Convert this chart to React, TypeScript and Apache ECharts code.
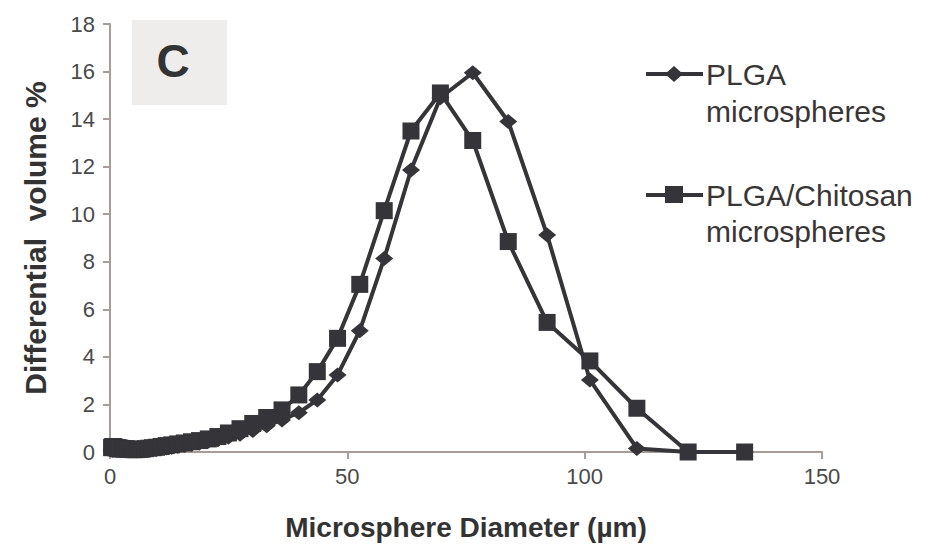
import React, { useEffect, useRef } from "react";
import * as echarts from "echarts";

// Particle-size bins (µm) of the laser diffraction analyser
const diameters = [
  0.375, 0.412, 0.452, 0.496, 0.545, 0.598, 0.657, 0.721, 0.791, 0.869, 0.954, 1.047, 1.149,
  1.262, 1.385, 1.52, 1.669, 1.832, 2.011, 2.208, 2.424, 2.661, 2.921, 3.206, 3.519, 3.863,
  4.241, 4.656, 5.111, 5.611, 6.159, 6.761, 7.422, 8.148, 8.944, 9.819, 10.78, 11.83, 12.99,
  14.26, 15.65, 17.18, 18.86, 20.71, 22.73, 24.95, 27.39, 30.07, 33.01, 36.24, 39.78, 43.67,
  47.94, 52.62, 57.77, 63.41, 69.61, 76.42, 83.9, 92.09, 101.1, 111.0, 121.8, 133.7,
];

// Differential volume % — PLGA microspheres
const plgaValues = [
  0.08, 0.08, 0.08, 0.08, 0.08, 0.08, 0.08, 0.08, 0.08, 0.08, 0.08, 0.08, 0.08,
  0.07, 0.07, 0.07, 0.07, 0.07, 0.07, 0.06, 0.06, 0.06, 0.06, 0.06, 0.05, 0.05,
  0.05, 0.05, 0.05, 0.05, 0.06, 0.07, 0.08, 0.09, 0.1, 0.12, 0.14, 0.17, 0.2,
  0.24, 0.28, 0.33, 0.38, 0.45, 0.52, 0.62, 0.75, 0.9, 1.1, 1.35, 1.65, 2.19,
  3.24, 5.1, 8.14, 11.86, 14.9, 15.95, 13.9, 9.13, 3.03, 0.15, 0, 0,
];

// Differential volume % — PLGA/Chitosan microspheres
const chitosanValues = [
  0.18, 0.19, 0.2, 0.2, 0.21, 0.21, 0.21, 0.21, 0.2, 0.2, 0.2, 0.19, 0.19,
  0.18, 0.18, 0.17, 0.17, 0.16, 0.16, 0.15, 0.15, 0.14, 0.14, 0.13, 0.13, 0.12,
  0.11, 0.1, 0.1, 0.1, 0.11, 0.12, 0.14, 0.16, 0.18, 0.2, 0.23, 0.27, 0.3,
  0.34, 0.38, 0.43, 0.48, 0.55, 0.65, 0.8, 0.98, 1.2, 1.45, 1.77, 2.4, 3.38,
  4.78, 7.05, 10.15, 13.5, 15.1, 13.1, 8.85, 5.45, 3.83, 1.84, 0, 0,
];

const seriesNames = ["PLGA microspheres", "PLGA/Chitosan microspheres"];
const yTicks = { min: 0, max: 18, interval: 2 };
const xTicks = { min: 0, max: 150, interval: 50 };

const LINE = "#353438";
const AXIS = "#a89c98";
const FONT = "'Liberation Sans', Arial, sans-serif";

export default function App() {
  const ref = useRef<HTMLDivElement>(null);

  useEffect(() => {
    if (!ref.current) return;
    const chart = echarts.init(ref.current, undefined, { renderer: "svg" });

    const plgaData = diameters.map((d, i) => [d, plgaValues[i]]);
    const chitData = diameters.map((d, i) => [d, chitosanValues[i]]);

    const legendText = (x: number, y: number, text: string) => ({
      type: "text",
      x,
      y,
      style: {
        text,
        font: `30px ${FONT}`,
        fill: "#3a3636",
        verticalAlign: "middle",
        align: "left",
      },
    });

    chart.setOption({
      animation: false,
      backgroundColor: "#ffffff",
      grid: { left: 110, top: 24, right: 109, bottom: 99, containLabel: false },
      xAxis: {
        type: "value",
        min: xTicks.min,
        max: xTicks.max,
        interval: xTicks.interval,
        name: "Microsphere Diameter (µm)",
        nameLocation: "middle",
        nameGap: 61,
        nameTextStyle: { fontFamily: FONT, fontSize: 28, fontWeight: "bold", color: "#333333" },
        axisLine: { show: true, lineStyle: { color: AXIS, width: 2 } },
        axisTick: { show: true, inside: false, length: 7, lineStyle: { color: AXIS, width: 2 } },
        axisLabel: { fontFamily: FONT, fontSize: 22, color: "#4a4a4a", margin: 13 },
        splitLine: { show: false },
      },
      yAxis: {
        type: "value",
        min: yTicks.min,
        max: yTicks.max,
        interval: yTicks.interval,
        name: "Differential  volume %",
        nameLocation: "middle",
        nameGap: 60,
        nameRotate: 90,
        nameTextStyle: { fontFamily: FONT, fontSize: 30, fontWeight: "bold", color: "#333333" },
        axisLine: { show: true, lineStyle: { color: AXIS, width: 2 } },
        axisTick: { show: true, inside: false, length: 7, lineStyle: { color: AXIS, width: 2 } },
        axisLabel: { fontFamily: FONT, fontSize: 22, color: "#4a4a4a", margin: 15 },
        splitLine: { show: false },
      },
      series: [
        {
          name: seriesNames[0],
          type: "line",
          data: plgaData,
          symbol: "diamond",
          symbolSize: [18, 15],
          showAllSymbol: true,
          lineStyle: { color: LINE, width: 4 },
          itemStyle: { color: LINE },
          z: 2,
        },
        {
          name: seriesNames[1],
          type: "line",
          data: chitData,
          symbol: "rect",
          symbolSize: [17, 17],
          showAllSymbol: true,
          lineStyle: { color: LINE, width: 4 },
          itemStyle: { color: LINE },
          z: 3,
        },
      ],
      graphic: [
        {
          type: "rect",
          shape: { x: 132, y: 20, width: 95, height: 85 },
          style: { fill: "#eeedec" },
          z: 0,
        },
        {
          type: "text",
          x: 173,
          y: 61,
          style: {
            text: "C",
            font: `bold 46px ${FONT}`,
            fill: "#333333",
            align: "center",
            verticalAlign: "middle",
          },
        },
        {
          type: "line",
          shape: { x1: 646, y1: 74, x2: 703, y2: 74 },
          style: { stroke: LINE, lineWidth: 4 },
        },
        {
          type: "polygon",
          shape: { points: [[674, 66], [683, 74], [674, 82], [665, 74]] },
          style: { fill: LINE },
        },
        legendText(706, 74, "PLGA"),
        legendText(706, 111, "microspheres"),
        {
          type: "line",
          shape: { x1: 646, y1: 195, x2: 703, y2: 195 },
          style: { stroke: LINE, lineWidth: 4 },
        },
        {
          type: "rect",
          shape: { x: 665, y: 186, width: 18, height: 17 },
          style: { fill: LINE },
        },
        legendText(706, 195, "PLGA/Chitosan"),
        legendText(706, 231, "microspheres"),
      ],
    });

    return () => chart.dispose();
  }, []);

  return <div ref={ref} style={{ width: 931, height: 551, margin: -8 }} />;
}
